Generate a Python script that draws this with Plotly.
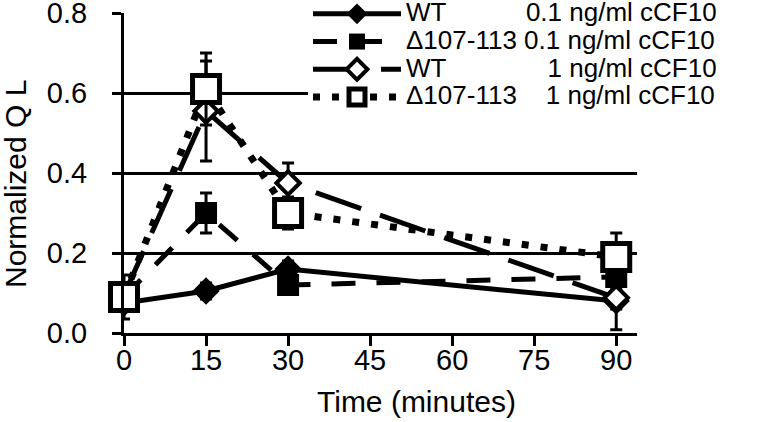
import plotly.graph_objects as go

# ---- data ----
time_min = [0, 15, 30, 90]

wt_01 = [0.075, 0.105, 0.16, 0.08]
wt_01_err = [0.02, 0.02, 0.02, 0.02]

d_01 = [0.09, 0.30, 0.12, 0.14]
d_01_err = [0.02, 0.05, 0.02, 0.03]

wt_1 = [0.095, 0.555, 0.375, 0.088]
wt_1_err = [0.03, 0.125, 0.05, 0.08]

d_1 = [0.09, 0.61, 0.30, 0.19]
d_1_err = [0.055, 0.09, 0.04, 0.06]

x_ticks = [0, 15, 30, 45, 60, 75, 90]
y_ticks = [0.0, 0.2, 0.4, 0.6, 0.8]

NB = "\u00a0"
names = [
    "WT" + NB * 11 + "0.1 ng/ml cCF10",
    "\u0394107-113 0.1 ng/ml cCF10",
    "WT" + NB * 14 + "1 ng/ml cCF10",
    "\u0394107-113" + NB * 4 + "1 ng/ml cCF10",
]

FONT = "Liberation Sans, Arial, sans-serif"
LEG_TXT = 26

fig = go.Figure()

def add(y, err, name, dash, width, symbol, size, fill, mline):
    fig.add_trace(go.Scatter(
        x=time_min, y=y,
        name='<span style="font-size:%dpx">%s</span>' % (LEG_TXT, name),
        mode="lines+markers",
        line=dict(color="black", width=width, dash=dash),
        marker=dict(symbol=symbol, size=size, color=fill,
                    line=dict(color="black", width=mline)),
        error_y=dict(type="data", array=err, visible=True,
                     color="black", thickness=3, width=6),
        cliponaxis=False,
    ))

add(wt_01, wt_01_err, names[0], "solid", 5, "diamond", 21, "black", 0)
add(d_01, d_01_err, names[1], "24px,21px", 5, "square", 22, "black", 0)
add(wt_1, wt_1_err, names[2], "48px,20px", 5, "diamond", 18, "white", 4)
add(d_1, d_1_err, names[3], "7px,12px", 7, "square", 27, "white", 5)

fig.update_layout(
    width=759, height=422,
    margin=dict(l=124, r=122, t=13, b=89, autoexpand=False),
    plot_bgcolor="white", paper_bgcolor="white",
    font=dict(family=FONT, size=29, color="black"),
    showlegend=True,
    legend=dict(
        x=(308 - 124) / 513, y=(333 + 5) / 320, xanchor="left", yanchor="top",
        bgcolor="white", borderwidth=0,
        font=dict(family=FONT, size=19, color="black"),
        itemwidth=88, tracegroupgap=0,
    ),
    xaxis=dict(
        range=[0, 93.8], tickvals=x_ticks, ticktext=[str(v) for v in x_ticks],
        showgrid=False, zeroline=False,
        showline=True, linecolor="black", linewidth=3,
        ticks="outside", ticklen=10, tickwidth=3, tickcolor="black",
        tickfont=dict(size=29),
        ticklabelstandoff=-11,
        ticklabeloverflow="allow",
    ),
    yaxis=dict(
        range=[0, 0.8], tickvals=y_ticks, tickformat=".1f",
        showgrid=True, gridcolor="black", gridwidth=2.5,
        zeroline=False,
        showline=True, linecolor="black", linewidth=3,
        ticks="outside", ticklen=9, tickwidth=3, tickcolor="black",
        tickfont=dict(size=29),
        ticklabelstandoff=19,
        ticklabeloverflow="allow",
    ),
    annotations=[
        dict(text="Time (minutes)", xref="paper", yref="paper",
             x=(416 - 124) / 513, y=(333 - 401) / 320,
             xanchor="center", yanchor="middle", showarrow=False,
             font=dict(size=30)),
        dict(text="Normalized Q L", xref="paper", yref="paper",
             x=(15 - 124) / 513, y=(333 - 184) / 320, textangle=-90,
             xanchor="center", yanchor="middle", showarrow=False,
             font=dict(size=30)),
    ],
)

fig.write_html("out.html", config={"displayModeBar": False},
               post_script="document.body.style.margin='0';")
